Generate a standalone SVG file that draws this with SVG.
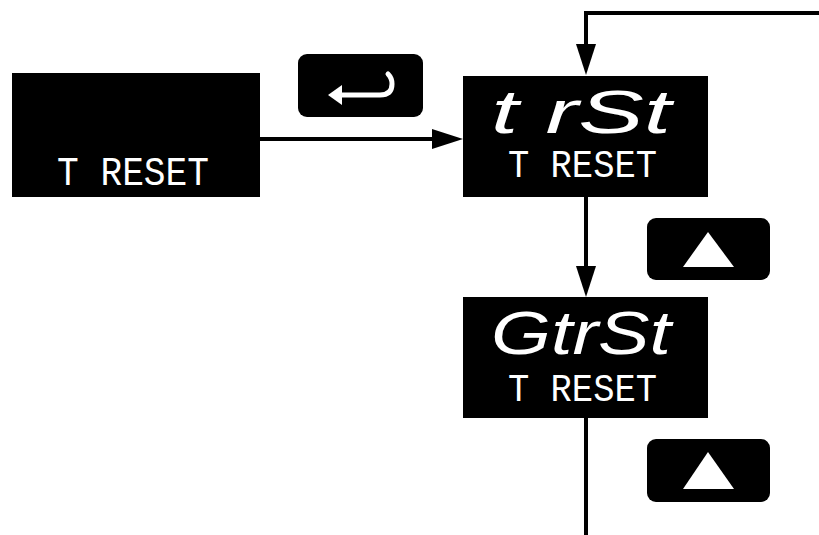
<svg xmlns="http://www.w3.org/2000/svg" width="819" height="535" viewBox="0 0 819 535">
<style>
.disp{fill:#000}
.btn{fill:#000}
.lcd{fill:#fff;font-family:"Liberation Mono","DejaVu Sans Mono",monospace}
.seg{fill:#fff;font-family:"Liberation Sans","DejaVu Sans",sans-serif;font-style:italic;font-size:62px}
.small{font-size:38px}
.conn{fill:none;stroke:#000;stroke-width:4}
</style>
<defs>
<marker id="ah" markerUnits="userSpaceOnUse" markerWidth="32" markerHeight="20" refX="0" refY="10" orient="auto">
<path d="M0,0 L31,10 L0,20 z" fill="#000"/>
</marker>
</defs>
<rect width="819" height="535" fill="#fff"/>
<g id="connectors">
<path class="conn" d="M819,13 H586 V44" marker-end="url(#ah)"/>
<path class="conn" d="M260,139 H432" marker-end="url(#ah)"/>
<path class="conn" d="M586,197 V266" stroke-width="3.5" marker-end="url(#ah)"/>
<path class="conn" d="M586,418 V535" stroke-width="3.5"/>
</g>
<g id="display-left">
<rect class="disp" x="12" y="73" width="248" height="124"/>
<text class="lcd" x="57" y="185" font-size="41" textLength="152" lengthAdjust="spacingAndGlyphs">T RESET</text>
</g>
<g id="enter-button">
<rect class="btn" x="298" y="54" width="125" height="63" rx="9"/>
<path d="M338,95 H380 Q392,95 392,84 Q392,78 388,74" fill="none" stroke="#fff" stroke-width="5" stroke-linecap="round"/>
<path d="M328,95 L342,85 L342,105 z" fill="#fff"/>
</g>
<g id="display-trst">
<rect class="disp" x="463" y="76" width="245" height="121"/>
<text class="seg" x="491" y="133" textLength="180" lengthAdjust="spacingAndGlyphs">t rSt</text>
<text class="lcd small" x="508" y="177" textLength="149" lengthAdjust="spacingAndGlyphs">T RESET</text>
</g>
<g id="up-button-1">
<rect class="btn" x="647" y="218" width="123" height="62" rx="9"/>
<path d="M708,232 L734,267 L683,267 z" fill="#fff"/>
</g>
<g id="display-gtrst">
<rect class="disp" x="463" y="297" width="245" height="121"/>
<text class="seg" x="491" y="354" textLength="180" lengthAdjust="spacingAndGlyphs">GtrSt</text>
<text class="lcd small" x="508" y="401" textLength="149" lengthAdjust="spacingAndGlyphs">T RESET</text>
</g>
<g id="up-button-2">
<rect class="btn" x="647" y="439" width="123" height="63" rx="9"/>
<path d="M708,452 L734,489 L683,489 z" fill="#fff"/>
</g>
</svg>
